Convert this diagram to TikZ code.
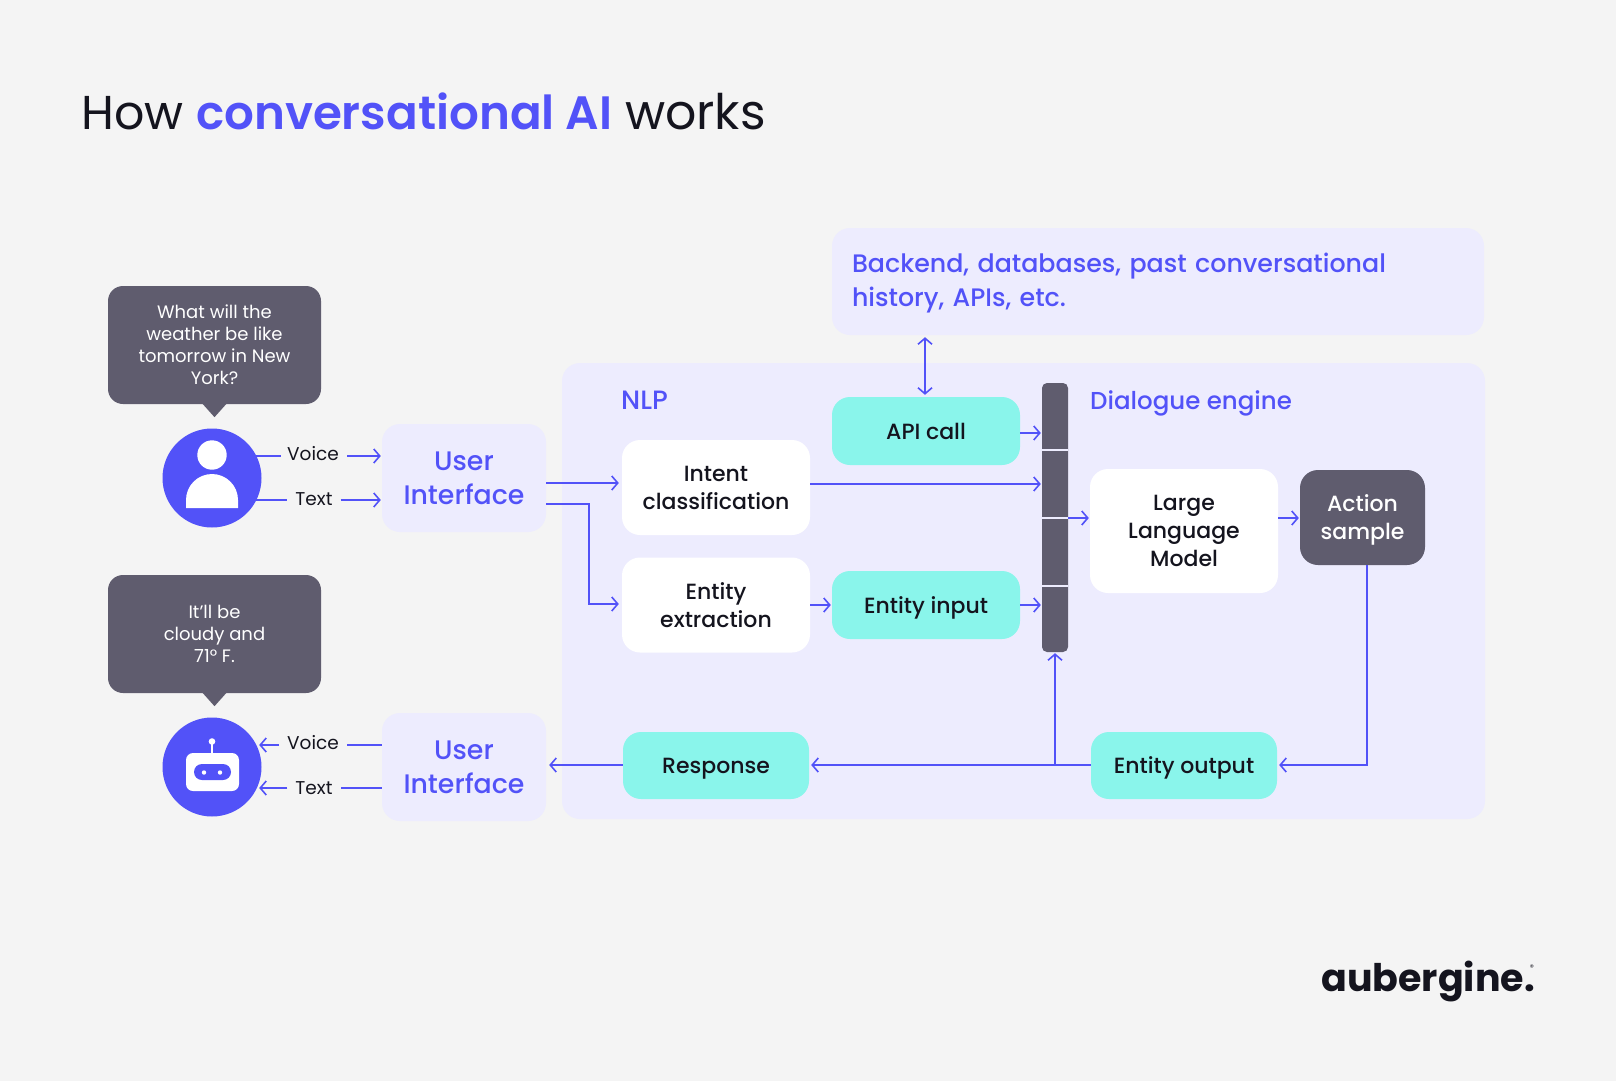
\documentclass[tikz,border=0pt]{standalone}
\usepackage{fontspec}
\setmainfont{Poppins}
\newfontfamily\medf{Poppins Medium}
\newfontfamily\semi{Poppins SemiBold}
\usetikzlibrary{arrows.meta}
\definecolor{bgc}{HTML}{F4F4F4}
\definecolor{blu}{HTML}{5252F8}
\definecolor{pan}{HTML}{EDECFE}
\definecolor{teal}{HTML}{8AF5EB}
\definecolor{dark}{HTML}{5F5C6E}
\definecolor{ink}{HTML}{14141E}
\tikzset{
 arr/.style={draw=blu,line width=1.6pt,-{Straight Barb[length=6pt,width=14pt,line width=1.6pt]}},
 lin/.style={draw=blu,line width=1.6pt},
 base/.style={inner sep=0pt,align=center,rounded corners=18pt,text=ink},
 boxt/.style={font=\medf\fontsize{22}{28}\selectfont},
 whiteb/.style={base,boxt,fill=white},
 tealb/.style={base,boxt,fill=teal,text height=16pt,text depth=0pt},
 uib/.style={base,fill=pan,text=blu,minimum width=164pt,minimum height=108pt,font=\medf\fontsize{26.8}{34}\selectfont},
 bub/.style={base,fill=dark,text=white,rounded corners=15pt,minimum width=213pt,minimum height=118pt,font=\fontsize{18}{22}\selectfont},
 lab/.style={inner sep=0pt,text=ink,font=\fontsize{18.5}{22}\selectfont},
 circ/.style={circle,fill=blu,minimum size=99pt,inner sep=0pt},
 head/.style={font=\medf\fontsize{24.5}{30}\selectfont,text=blu,inner sep=0pt,anchor=base west},
}
\begin{document}
\begin{tikzpicture}[x=1pt,y=-1pt]
\useasboundingbox (0,0) rectangle (1616,1081);
\fill[bgc] (0,0) rectangle (1616,1081);
% title
\node[anchor=base west,inner sep=0pt,text=ink,font=\fontsize{47.5}{50}\selectfont] (title) at (81,129) {How {\semi\fontsize{46.8}{50}\selectfont\color{blu}conversational AI} {\fontsize{49}{50}\selectfont works}};
% panels
\node[base,fill=pan,minimum width=923pt,minimum height=456pt] (panel) at (1023.5,591) {};
\node[base,fill=pan,minimum width=652pt,minimum height=107pt] (backend) at (1158,281.5) {};
\node[inner sep=0pt,text=blu,text width=612pt,align=left,font=\medf\fontsize{25.3}{34}\selectfont] (backendtxt) at (backend.center |- 0,283.5) {Backend, databases, past conversational\\history, APIs, etc.};
\node[head,font=\medf\fontsize{26.5}{30}\selectfont] (nlp) at (621,409) {NLP};
\node[head] (dial) at (1090,409) {Dialogue engine};
% bubbles
\node[bub] (b1) at (214.5,345) {What will the\\weather be like\\tomorrow in New\\York?};
\fill[dark] ([xshift=-12.5pt,yshift=1pt]b1.south) -- ([xshift=12.5pt,yshift=1pt]b1.south) -- ([yshift=-13pt]b1.south) -- cycle;
\node[bub] (b2) at (214.5,634) {It'll be\\cloudy and\\71° F.};
\fill[dark] ([xshift=-12.5pt,yshift=1pt]b2.south) -- ([xshift=12.5pt,yshift=1pt]b2.south) -- ([yshift=-13pt]b2.south) -- cycle;
% person
\node[circ] (user) at (212,478) {};
\fill[white] (212,455) circle (14.7);
\fill[white] (186,508) -- (186,500) arc[start angle=180,end angle=360,radius=26] -- (238,508) -- cycle;
% robot
\node[circ] (bot) at (212,767) {};
\draw[white,line width=1.3pt] (212,753) -- (212,742);
\fill[white] (212,741.5) circle (3.3);
\fill[white,rounded corners=7pt] (186,753) rectangle (239,791);
\fill[blu,rounded corners=8pt] (194,764) rectangle (231,780);
\fill[white] (204,772.5) circle (2.2) (220,772.5) circle (2.2);
% UI
\node[uib] (ui1) at (464,478) {User\\Interface};
\node[uib] (ui2) at (464,767) {User\\Interface};
% boxes
\node[whiteb,minimum width=188pt,minimum height=95pt] (intent) at (716,487.5) {Intent\\classification};
\node[whiteb,minimum width=188pt,minimum height=95pt] (extract) at (716,605) {Entity\\extraction};
\node[tealb,minimum width=188pt,minimum height=68pt] (api) at (926,431) {API call};
\node[tealb,minimum width=188pt,minimum height=68pt] (einput) at (926,605) {Entity input};
\node[whiteb,minimum width=188pt,minimum height=124pt] (llm) at (1184,531) {Large\\Language\\Model};
\node[base,boxt,fill=dark,text=white,text depth=0pt,minimum width=125pt,minimum height=95pt] (action) at (1362.5,517.5) {Action\\sample};
\node[tealb,minimum width=186pt,minimum height=67pt] (eoutput) at (1184,765.5) {Entity output};
\node[tealb,minimum width=186pt,minimum height=67pt] (resp) at (716,765.5) {Response};
% bar
\node[fill=dark,rounded corners=5pt,inner sep=0pt,minimum width=26pt,minimum height=269pt] (bar) at (1055,517.5) {};
\draw[pan,line width=1.6pt] (bar.west |- 0,450) -- (bar.east |- 0,450);
\draw[pan,line width=1.6pt] (bar.west |- 0,518) -- (bar.east |- 0,518);
\draw[pan,line width=1.6pt] (bar.west |- 0,586) -- (bar.east |- 0,586);
% labels
\node[lab] (v1) at (313,454) {Voice};
\node[lab] (t1) at (314,499) {Text};
\node[lab] (v2) at (313,743) {Voice};
\node[lab] (t2) at (314,788) {Text};
% connectors
\draw[lin] ([xshift=-6pt]user.east |- 0,456) -- ([xshift=-6pt]v1.west |- 0,456);
\draw[lin] ([xshift=-6pt]user.east |- 0,500) -- ([xshift=-8pt]t1.west |- 0,500);
\draw[arr] ([xshift=8pt]v1.east |- 0,456) -- ([xshift=-1pt]ui1.west |- 0,456);
\draw[arr] ([xshift=8pt]t1.east |- 0,500) -- ([xshift=-1pt]ui1.west |- 0,500);
\draw[lin] (ui2.west |- 0,745) -- ([xshift=8pt]v2.east |- 0,745);
\draw[lin] (ui2.west |- 0,788) -- ([xshift=8pt]t2.east |- 0,788);
\draw[arr] ([xshift=-8pt]v2.west |- 0,745) -- ([xshift=-2.5pt]bot.east |- 0,745);
\draw[arr] ([xshift=-8pt]t2.west |- 0,788) -- ([xshift=-2.5pt]bot.east |- 0,788);
\draw[arr] (ui1.east |- 0,483) -- ([xshift=-3pt]intent.west |- 0,483);
\draw[arr,rounded corners=0pt] (ui1.east |- 0,504) -- (589,504) -- (589,604) -- ([xshift=-3pt]extract.west |- 0,604);
\draw[arr] (intent.east |- 0,484) -- ([xshift=-1pt]bar.west |- 0,484);
\draw[arr] (extract.east) -- ([xshift=-1pt]einput.west);
\draw[arr] (api.east |- 0,433) -- ([xshift=-1pt]bar.west |- 0,433);
\draw[arr] (einput.east) -- ([xshift=-1pt]bar.west |- 0,605);
\draw[arr] (bar.east |- 0,518) -- ([xshift=-1pt]llm.west |- 0,518);
\draw[arr] (llm.east |- 0,518) -- ([xshift=-1pt]action.west |- 0,518);
\draw[arr,{Straight Barb[length=6pt,width=14pt,line width=1.6pt]}-{Straight Barb[length=6pt,width=14pt,line width=1.6pt]}] ([yshift=-2pt]backend.south -| 925,0) -- ([yshift=2pt]api.north -| 925,0);
\draw[arr] (action.south -| 1367,0) -- (1367,765) -- ([xshift=2pt]eoutput.east |- 0,765);
\draw[arr] (eoutput.west |- 0,765) -- ([xshift=2pt]resp.east |- 0,765);
\draw[arr] (bar.south |- 0,765) -- ([yshift=-1pt]bar.south);
\draw[arr] (resp.west |- 0,765) -- ([xshift=3pt]ui2.east |- 0,765);
% logo
\node[anchor=base west,inner sep=0pt,text=ink,font=\bfseries\fontsize{38}{48}\selectfont] (logo) at (1321,991) {aubergine.};
\node[inner sep=0pt,text=ink,font=\fontsize{8}{8}\selectfont] (reg) at (1532,968) {®};
\end{tikzpicture}
\end{document}
